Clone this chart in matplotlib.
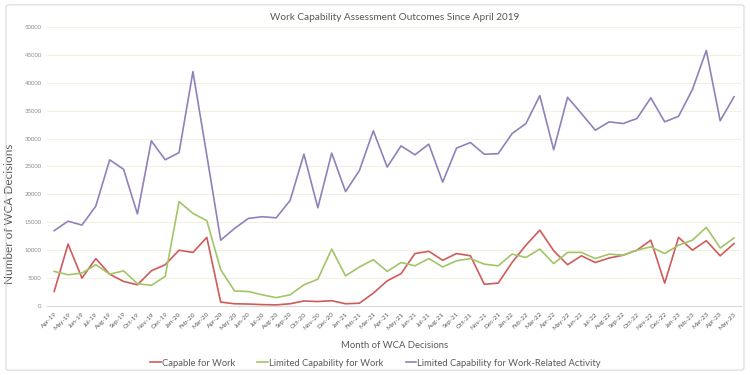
import matplotlib
matplotlib.use('Agg')
import matplotlib.pyplot as plt
from matplotlib.patches import FancyBboxPatch

plt.rcParams['font.family'] = ['Lato', 'DejaVu Sans']

months = ['Apr-19', 'May-19', 'Jun-19', 'Jul-19', 'Aug-19', 'Sep-19', 'Oct-19', 'Nov-19', 'Dec-19',
          'Jan-20', 'Feb-20', 'Mar-20', 'Apr-20', 'May-20', 'Jun-20', 'Jul-20', 'Aug-20', 'Sep-20',
          'Oct-20', 'Nov-20', 'Dec-20', 'Jan-21', 'Feb-21', 'Mar-21', 'Apr-21', 'May-21', 'Jun-21',
          'Jul-21', 'Aug-21', 'Sep-21', 'Oct-21', 'Nov-21', 'Dec-21', 'Jan-22', 'Feb-22', 'Mar-22',
          'Apr-22', 'May-22', 'Jun-22', 'Jul-22', 'Aug-22', 'Sep-22', 'Oct-22', 'Nov-22', 'Dec-22',
          'Jan-23', 'Feb-23', 'Mar-23', 'Apr-23', 'May-23']

capable = [2600, 11100, 5000, 8500, 5700, 4400, 3800, 6300, 7400, 10000,
           9600, 12300, 700, 400, 350, 250, 200, 400, 900, 800,
           950, 400, 500, 2300, 4500, 5800, 9400, 9800, 8200, 9400,
           9000, 3900, 4100, 7800, 10900, 13600, 9900, 7400, 9000, 7800,
           8600, 9100, 10000, 11800, 4100, 12300, 10000, 11700, 9000, 11200]

limited = [6200, 5600, 5900, 7400, 5700, 6300, 4000, 3700, 5300, 18700,
           16600, 15300, 6500, 2700, 2600, 2000, 1500, 2000, 3800, 4800,
           10200, 5400, 7000, 8300, 6200, 7800, 7200, 8500, 7000, 8100,
           8500, 7500, 7200, 9300, 8700, 10200, 7600, 9600, 9600, 8500,
           9300, 9100, 10000, 10600, 9400, 10900, 11800, 14100, 10400, 12200]

lcwra = [13500, 15200, 14500, 17900, 26200, 24500, 16500, 29600, 26200, 27500,
         42000, 27000, 11800, 13900, 15700, 16000, 15800, 18900, 27200, 17600,
         27400, 20500, 24300, 31400, 24900, 28700, 27100, 29000, 22200, 28300,
         29300, 27200, 27300, 30900, 32700, 37700, 28000, 37400, 34500, 31500,
         33000, 32700, 33600, 37300, 33000, 34000, 38800, 45800, 33200, 37500]

fig = plt.figure(figsize=(7.5, 3.75), dpi=100)
frame = FancyBboxPatch((0.008, 0.013), 0.984, 0.974, boxstyle='round,pad=0,rounding_size=0.005',
                       transform=fig.transFigure, facecolor='none', edgecolor='#d9d9d9', lw=0.8)
fig.patches.append(frame)

ax = fig.add_axes([0.063, 0.184, 0.925, 0.744])
x = list(range(len(months)))
ax.plot(x, capable, color='#cd5c5a', lw=1.2, label='Capable for Work')
ax.plot(x, limited, color='#a3c467', lw=1.2, label='Limited Capability for Work')
ax.plot(x, lcwra, color='#9280bb', lw=1.2, label='Limited Capability for Work-Related Activity')

ax.set_ylim(0, 50000)
ax.set_xlim(-0.5, len(months) - 0.5)
ax.set_yticks(range(0, 50001, 5000))
ax.set_yticklabels([str(v) for v in range(0, 50001, 5000)], fontsize=4.3, color='#8c8c8c')
ax.set_xticks(x)
ax.set_xticklabels(months, rotation=45, ha='right', rotation_mode='anchor', fontsize=4.6, color='#595959')
ax.tick_params(length=0, pad=4)
ax.grid(axis='y', color='#f2f1e1', lw=0.8)
ax.set_axisbelow(True)
for side in ['top', 'right', 'left']:
    ax.spines[side].set_visible(False)
ax.spines['bottom'].set_color('#d9d9d9')
ax.spines['bottom'].set_linewidth(0.8)

ax.set_title('Work Capability Assessment Outcomes Since April 2019', fontsize=7.2, color='#595959', pad=5)
ax.set_ylabel('Number of WCA Decisions', fontsize=8.5, color='#595959')
ax.yaxis.set_label_coords(-0.046, 0.33)
ax.set_xlabel('Month of WCA Decisions', fontsize=6.8, color='#595959')
ax.xaxis.set_label_coords(0.5, -0.125)

ax.legend(loc='center', bbox_to_anchor=(0.473, -0.205), ncol=3, frameon=False,
          fontsize=6.75, handlelength=1.1, handletextpad=0.1, columnspacing=2.4,
          labelcolor='#595959')

fig.savefig('out.png', dpi=100)
